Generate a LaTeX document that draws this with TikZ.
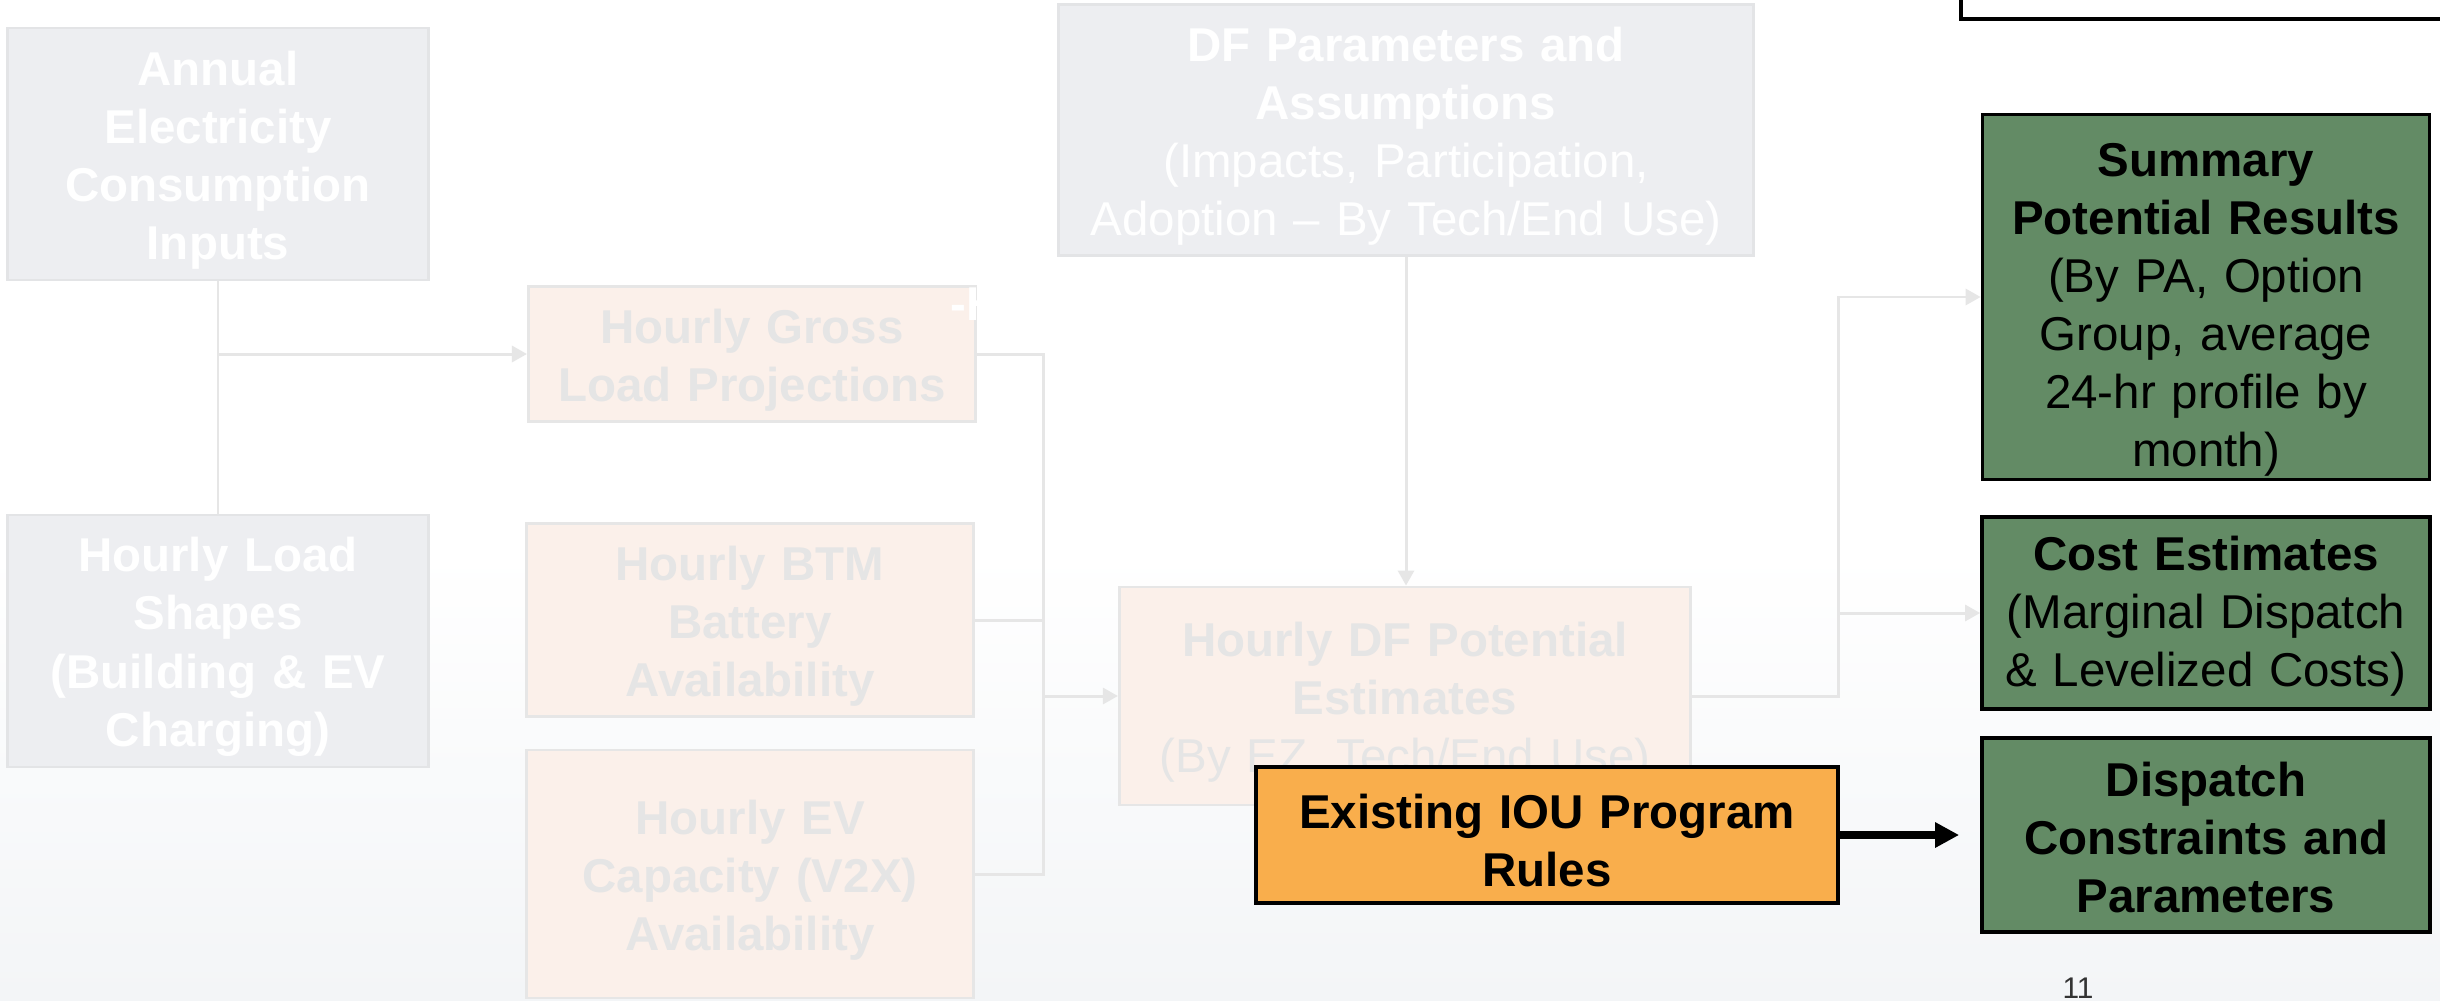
\documentclass[tikz,border=0pt]{standalone}
\usepackage{fontspec}
\setmainfont{Liberation Sans}
\usepackage{tikz}
\usetikzlibrary{arrows.meta,backgrounds,calc}
\definecolor{greyfill}{HTML}{EDEEF1}
\definecolor{greyline}{HTML}{E3E4E6}
\definecolor{pinkfill}{HTML}{FBF0EA}
\definecolor{pinkline}{HTML}{E6E6E6}
\definecolor{fadetext}{HTML}{E5E5E5}
\definecolor{connline}{HTML}{E6E6E6}
\definecolor{resgreen}{HTML}{638B65}
\definecolor{ruleorange}{HTML}{F9AE4C}
\definecolor{bgshade}{HTML}{F3F5F7}
\definecolor{pagegrey}{HTML}{333333}

\begin{document}
\begin{tikzpicture}[x=0.01cm,y=-0.01cm,
  boxsize/.style 2 args={minimum width=#1,minimum height=#2,text width=#1},
  drop/.store in=\boxdrop, drop=0.46cm,
  box/.style={rectangle,inner sep=0pt,align=center,line width=0.8pt,font=\fontsize{13.5}{16.5}\selectfont,
    execute at begin node={\rule{0pt}{\boxdrop}}},
  inbox/.style={box,draw=greyline,fill=greyfill,text=white},
  midbox/.style={box,draw=pinkline,fill=pinkfill,text=fadetext},
  outbox/.style={box,draw=black,fill=resgreen,text=black,line width=1pt},
  conn/.style={draw=connline,line width=0.85pt},
  arr/.style={conn,-{Triangle[length=0.15cm,width=0.16cm]}},
  bigarr/.style={draw=black,line width=2.2pt,-{Triangle[length=0.24cm,width=0.24cm]}}]
\useasboundingbox (0,0) rectangle (2440,1000);
\fill[white] (0,0) rectangle (2440,1000);
\shade[top color=white,bottom color=bgshade] (0,550) rectangle (2440,1000);

\node[draw=black,line width=1pt,minimum width=5cm,minimum height=1cm,anchor=south west] (keybox) at (1959,21) {};

\node[inbox,boxsize={4.21cm}{2.52cm}] (annual) at (218,154) {\textbf{Annual\\Electricity\\Consumption\\Inputs}};
\node[inbox,boxsize={4.21cm}{2.52cm}] (loadshape) at (218,641) {\textbf{Hourly Load\\Shapes\\(Building \& EV\\Charging)}};
\node[midbox,boxsize={4.47cm}{1.35cm}] (gross) at (752,354) {\textbf{Hourly Gross\\Load Projections}};
\node[midbox,boxsize={4.47cm}{1.93cm}] (btm) at (750,620) {\textbf{Hourly BTM\\Battery\\Availability}};
\node[midbox,boxsize={4.47cm}{2.48cm}] (ev) at (750,874) {\textbf{Hourly EV\\Capacity (V2X)\\Availability}};
\node[inbox,boxsize={6.94cm}{2.51cm}] (dfparam) at (1406,130) {\textbf{DF Parameters and\\Assumptions}\\(Impacts, Participation,\\Adoption -- By Tech/End Use)};
\node[midbox,boxsize={5.71cm}{2.18cm}] (dfpot) at (1405,696) {\textbf{Hourly DF Potential\\Estimates}\\(By EZ, Tech/End Use)};
\node[anchor=base west,inner sep=0pt,text=white,font=\fontsize{13.5}{16.5}\selectfont\bfseries] (cut) at (950,320) {-H};

\node[outbox,drop=0.58cm,boxsize={4.47cm}{3.65cm}] (summary) at (2206,297) {\textbf{Summary\\Potential Results}\\(By PA, Option\\Group, average\\24-hr profile by\\month)};
\node[outbox,drop=0.40cm,boxsize={4.48cm}{1.92cm}] (cost) at (2206,613) {\textbf{Cost Estimates}\\(Marginal Dispatch\\\& Levelized Costs)};
\node[outbox,drop=0.40cm,boxsize={4.48cm}{1.94cm}] (dispatch) at (2206,835) {\textbf{Dispatch\\Constraints and\\Parameters}};

\coordinate (inbus) at (1043,0);
\coordinate (outbus) at (1838,0);
\draw[conn] (annual.south) -- (annual.south |- loadshape.north);
\draw[arr] (annual.south |- gross.west) -- (gross.west);
\draw[conn] (gross.east) -| (inbus |- ev.east) -- (ev.east);
\draw[conn] (btm.east) -- (btm.east -| inbus);
\draw[arr] (inbus |- dfpot.west) -- (dfpot.west);
\draw[arr] (dfparam.south) -- (dfparam.south |- dfpot.north);
\draw[arr] (dfpot.east) -| (outbus |- summary.west) -- (summary.west);
\draw[arr] (outbus |- cost.west) -- (cost.west);

\node[box,draw=black,fill=ruleorange,text=black,line width=1pt,boxsize={5.82cm}{1.36cm}] (iou) at (1547,835) {\textbf{Existing IOU Program\\Rules}};
\draw[bigarr] (iou.east) -- ([xshift=-0.21cm]dispatch.west);

\node[anchor=base,text=pagegrey,font=\fontsize{8.5}{10}\selectfont] (pagenum) at (2078,998) {11};
\end{tikzpicture}
\end{document}
